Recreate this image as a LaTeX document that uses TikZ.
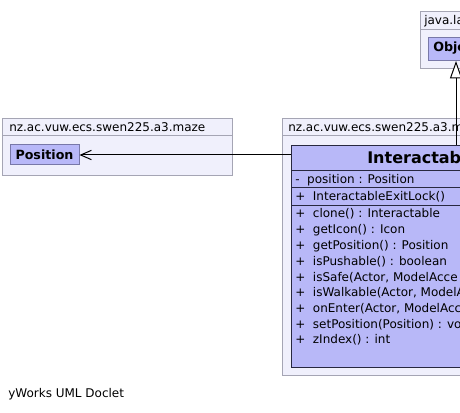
\documentclass[tikz,border=0pt]{standalone}
\usepackage{fontspec}
\setmainfont{DejaVu Sans}
\usetikzlibrary{arrows.meta}

\begin{document}
\begin{tikzpicture}[x=0.75pt,y=-0.75pt,font=\fontsize{9}{11}\selectfont]
  \definecolor{pkgfill}{RGB}{240,240,252}
  \definecolor{pkgline}{RGB}{165,165,180}
  \definecolor{clsfill}{RGB}{184,184,248}
  \definecolor{clsline}{RGB}{120,120,168}
  \definecolor{clsdark}{RGB}{40,40,64}

  \tikzset{
    pkgbox/.style={draw=pkgline,fill=pkgfill,line width=0.75pt},
    pkglabel/.style={anchor=west,inner sep=0pt},
    clsbox/.style={draw=clsline,fill=clsfill,line width=0.75pt,inner sep=0pt},
    clsname/.style={font=\fontsize{9.5}{11}\selectfont\bfseries,inner sep=0pt},
    member/.style={anchor=west,inner sep=0pt},
    assocarrow/.style={-{Straight Barb[length=8pt,width=7pt]},line width=0.75pt},
    genarrow/.style={-{Triangle[open,fill=white,length=13pt,width=9pt]},line width=0.75pt}
  }

  \useasboundingbox (0,0) rectangle (460,413);
  \clip (0,0) rectangle (460,413);

  % ---------------- package java.lang ----------------
  \draw[pkgbox] (420,12) rectangle (700,69);
  \draw[pkgline,line width=0.75pt] (420,30) -- (700,30);
  \node[pkglabel] (javalbl) at (424,21.5) {java.lang};
  \node[clsbox,anchor=north west,minimum width=54pt,minimum height=17.25pt] (obj) at (428,37) {};
  \node[clsname,anchor=west] (objname) at (433,48.5) {Object};

  % ---------------- package maze ----------------
  \draw[pkgbox] (2,119) rectangle (232,176);
  \draw[pkgline,line width=0.75pt] (2,136) -- (232,136);
  \node[pkglabel] (mazelbl) at (9,127.5) {nz.ac.vuw.ecs.swen225.a3.maze};
  \node[clsbox,clsname,minimum width=51.75pt,minimum height=15pt] (pos) at (44.5,155) {Position};

  % ---------------- package of InteractableExitLock ----------------
  \draw[pkgbox] (282,119) rectangle (700,375);
  \draw[pkgline,line width=0.75pt] (282,136) -- (700,136);
  \node[pkglabel] (itemlbl) at (288,127.5) {nz.ac.vuw.ecs.swen225.a3.m};

  \node[clsbox,draw=clsdark,anchor=north west,minimum width=306.75pt,minimum height=166.5pt] (ilock) at (291,145) {};
  \node[clsname,anchor=west,font=\fontsize{12}{14}\selectfont\bfseries] (ilockname) at (367,158) {InteractableExitLock};

  % compartments
  \draw[clsdark,line width=0.75pt] (291,171) -- (700,171);
  \draw[clsdark,line width=0.75pt] (291,188) -- (700,188);
  \draw[clsdark,line width=0.75pt] (291,206) -- (700,206);

  % field
  \node[member] (fpos) at (295,180) {-\ \ position : Position};

  % constructor
  \node[member] (ctor) at (295,197) {+\ \ InteractableExitLock()};

  % methods
  \node[member] (m1) at (295,214) {+\ \ clone() : Interactable};
  \node[member] (m2) at (295,230) {+\ \ getIcon() : Icon};
  \node[member] (m3) at (295,246) {+\ \ getPosition() : Position};
  \node[member] (m4) at (295,261.5) {+\ \ isPushable() : boolean};
  \node[member] (m5) at (295,277.5) {+\ \ isSafe(Actor, ModelAcce};
  \node[member] (m6) at (295,293) {+\ \ isWalkable(Actor, ModelA};
  \node[member] (m7) at (295,309) {+\ \ onEnter(Actor, ModelAcc};
  \node[member] (m8) at (295,324.5) {+\ \ setPosition(Position) : vo};
  \node[member] (m9) at (295,340) {+\ \ zIndex() : int};

  % association to Position
  \draw[assocarrow] (pos.east -| ilock.west) -- (pos.east);

  % generalization to Object
  \coordinate (genfoot) at (456,145);
  \draw[genarrow] (genfoot) -- (genfoot |- obj.south);

  \node[member] (credit) at (8,394) {yWorks UML Doclet};
\end{tikzpicture}
\end{document}
